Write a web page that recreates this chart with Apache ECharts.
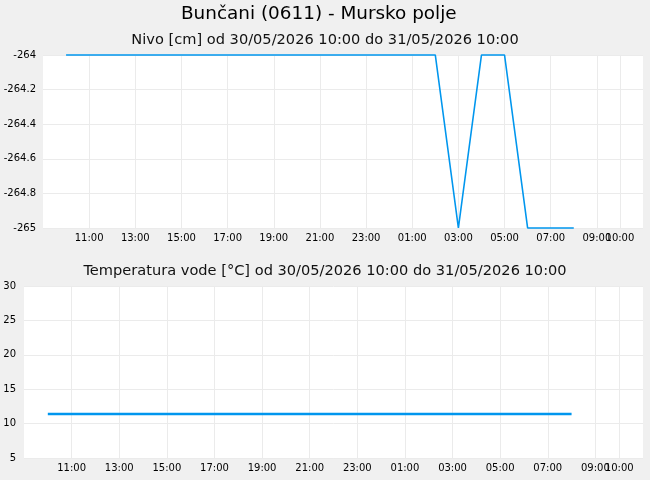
<!DOCTYPE html>
<html>
<head>
<meta charset="utf-8">
<script src="https://cdn.jsdelivr.net/npm/echarts@6/dist/echarts.min.js"></script>
<style>
html,body{margin:0;padding:0;background:#f0f0f0;}
#c{width:650px;height:480px;}
</style>
</head>
<body>
<div id="c"></div>
<script>
// Time stamps (hourly), 30/05/2026 10:00 .. 31/05/2026 08:00
var times = [
  '2026-05-30 10:00','2026-05-30 11:00','2026-05-30 12:00','2026-05-30 13:00',
  '2026-05-30 14:00','2026-05-30 15:00','2026-05-30 16:00','2026-05-30 17:00',
  '2026-05-30 18:00','2026-05-30 19:00','2026-05-30 20:00','2026-05-30 21:00',
  '2026-05-30 22:00','2026-05-30 23:00','2026-05-31 00:00','2026-05-31 01:00',
  '2026-05-31 02:00','2026-05-31 03:00','2026-05-31 04:00','2026-05-31 05:00',
  '2026-05-31 06:00','2026-05-31 07:00','2026-05-31 08:00'
];
// Nivo [cm]
var nivo = [
  -264,-264,-264,-264,-264,-264,-264,-264,-264,-264,-264,-264,
  -264,-264,-264,-264,-264,-265,-264,-264,-265,-265,-265
];
// Temperatura vode [°C]
var temperatura = [
  11.4,11.4,11.4,11.4,11.4,11.4,11.4,11.4,11.4,11.4,11.4,11.4,
  11.4,11.4,11.4,11.4,11.4,11.4,11.4,11.4,11.4,11.4,11.4
];
// x tick labels (odd hours) and the end-of-period tick
var xTicks = [
  '2026-05-30 11:00','2026-05-30 13:00','2026-05-30 15:00','2026-05-30 17:00',
  '2026-05-30 19:00','2026-05-30 21:00','2026-05-30 23:00','2026-05-31 01:00',
  '2026-05-31 03:00','2026-05-31 05:00','2026-05-31 07:00','2026-05-31 09:00'
];
var xEndTick = ['2026-05-31 10:00'];
var xMin = '2026-05-30 09:00', xMax = '2026-05-31 11:00';

function ts(s){ var p=s.split(/[- :]/); return new Date(+p[0],+p[1]-1,+p[2],+p[3],+p[4]).getTime(); }
function pad(n){ return (n<10?'0':'')+n; }
function fmt(v){ var d=new Date(v); return pad(d.getHours())+':'+pad(d.getMinutes()); }

var tickVals = xTicks.map(ts);
var endVals = xEndTick.map(ts);
var allVals = tickVals.concat(endVals);
var font = 'DejaVu Sans';
var gridColor = '#ebebeb';
var lineColor = '#0096ee';

function xAxis(gi, labels, ticks, split){
  return {
    type:'value', gridIndex:gi, position:'bottom', min:ts(xMin), max:ts(xMax),
    axisLine:{show:false},
    axisTick:{show:false, customValues:ticks},
    axisLabel:{customValues:labels, formatter:function(v){return fmt(v);}, color:'#000', fontFamily:font, fontSize:10, margin:5, hideOverlap:false, showMinLabel:true, showMaxLabel:true},
    splitLine:{show:split, lineStyle:{color:gridColor, width:1}}
  };
}

var option = {
  backgroundColor:'#f0f0f0',
  animation:false,
  title:[
    {text:'Bunčani (0611) - Mursko polje', left:181, top:5.5, padding:0, textStyle:{fontFamily:font, fontSize:18.4, fontWeight:'normal', color:'#000'}},
    {text:'Nivo [cm] od 30/05/2026 10:00 do 31/05/2026 10:00', left:'center', top:27.5, textStyle:{fontFamily:font, fontSize:14.6, fontWeight:'normal', color:'#111'}},
    {text:'Temperatura vode [°C] od 30/05/2026 10:00 do 31/05/2026 10:00', left:'center', top:259, textStyle:{fontFamily:font, fontSize:14.6, fontWeight:'normal', color:'#111'}}
  ],
  grid:[
    {left:43, top:55, width:600, height:173, show:true, backgroundColor:'#fff', borderWidth:0, containLabel:false},
    {left:24, top:286, width:619, height:172, show:true, backgroundColor:'#fff', borderWidth:0, containLabel:false}
  ],
  xAxis:[
    xAxis(0, tickVals, allVals, true), xAxis(1, tickVals, allVals, true),
    xAxis(0, endVals, endVals, false), xAxis(1, endVals, endVals, false)
  ],
  yAxis:[
    {type:'value', gridIndex:0, min:-265, max:-264, interval:0.2,
     axisLine:{show:false}, axisTick:{show:false},
     axisLabel:{color:'#000', fontFamily:font, fontSize:10, margin:7},
     splitLine:{lineStyle:{color:gridColor}}},
    {type:'value', gridIndex:1, min:5, max:30, interval:5,
     axisLine:{show:false}, axisTick:{show:false},
     axisLabel:{color:'#000', fontFamily:font, fontSize:10, margin:8},
     splitLine:{lineStyle:{color:gridColor}}}
  ],
  series:[
    {type:'line', xAxisIndex:0, yAxisIndex:0, showSymbol:false, symbol:'none',
     data:times.map(function(t,i){return [ts(t), nivo[i]];}),
     lineStyle:{color:lineColor, width:1.6}, clip:false},
    {type:'line', xAxisIndex:1, yAxisIndex:1, showSymbol:false, symbol:'none',
     data:times.map(function(t,i){return [ts(t), temperatura[i]];}),
     lineStyle:{color:lineColor, width:2.4}}
  ]
};
var chart = echarts.init(document.getElementById('c'), null, {renderer:'canvas'});
chart.setOption(option);
</script>
</body>
</html>
